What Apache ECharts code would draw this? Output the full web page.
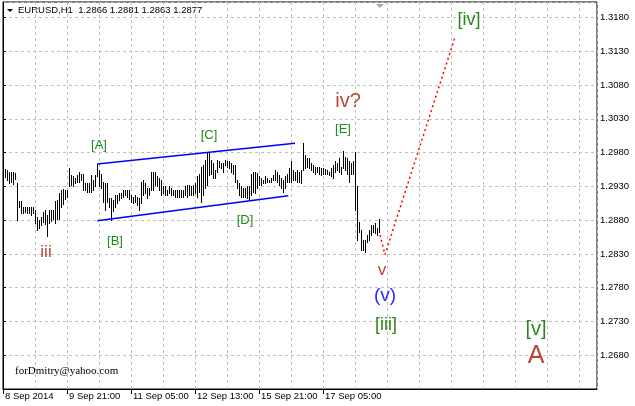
<!DOCTYPE html>
<html><head><meta charset="utf-8">
<script src="https://cdn.jsdelivr.net/npm/echarts@6/dist/echarts.min.js"></script>
<style>html,body{margin:0;padding:0;background:#fff}#c{width:635px;height:406px}</style>
</head><body><div id="c"></div>
<script>
// ---- data ----
const symbolTitle = 'EURUSD,H1  1.2866 1.2881 1.2863 1.2877';
const tickLabels = ['8 Sep 2014','9 Sep 21:00','11 Sep 05:00','12 Sep 13:00','15 Sep 21:00','17 Sep 05:00'];
const tickSlots = [0,32,64,96,128,160];
const highs = [
1.2955,1.2954,1.2951,1.2951,1.2951,1.2950,1.2935,1.2909,1.2909,1.2900,
1.2899,1.2899,1.2899,1.2899,1.2899,1.2895,1.2885,1.2880,1.2885,1.2892,
1.2895,1.2887,1.2895,1.2895,1.2895,1.2909,1.2910,1.2920,1.2924,1.2926,
1.2925,1.2925,1.2957,1.2947,1.2945,1.2942,1.2947,1.2952,1.2949,1.2949,
1.2935,1.2935,1.2935,1.2947,1.2940,1.2947,1.2963,1.2954,1.2949,1.2936,
1.2935,1.2935,1.2913,1.2913,1.2910,1.2917,1.2917,1.2920,1.2920,1.2925,
1.2925,1.2925,1.2925,1.2917,1.2915,1.2917,1.2915,1.2913,1.2937,1.2940,
1.2935,1.2927,1.2927,1.2952,1.2952,1.2952,1.2945,1.2942,1.2940,1.2930,
1.2930,1.2925,1.2930,1.2927,1.2925,1.2925,1.2925,1.2925,1.2925,1.2925,
1.2930,1.2932,1.2932,1.2930,1.2932,1.2935,1.2945,1.2949,1.2959,1.2962,
1.2969,1.2979,1.2979,1.2969,1.2964,1.2954,1.2969,1.2967,1.2964,1.2964,
1.2969,1.2967,1.2967,1.2964,1.2962,1.2962,1.2940,1.2935,1.2930,1.2927,
1.2927,1.2930,1.2930,1.2949,1.2952,1.2952,1.2950,1.2946,1.2942,1.2940,
1.2945,1.2942,1.2940,1.2942,1.2947,1.2954,1.2952,1.2947,1.2942,1.2940,
1.2945,1.2949,1.2957,1.2967,1.2954,1.2952,1.2954,1.2952,1.2954,1.2994,
1.2977,1.2972,1.2972,1.2964,1.2962,1.2959,1.2959,1.2959,1.2957,1.2957,
1.2955,1.2954,1.2952,1.2957,1.2962,1.2967,1.2964,1.2972,1.2959,1.2983,
1.2974,1.2972,1.2967,1.2964,1.2967,1.2981,1.2930,1.2878,1.2866,1.2851,
1.2851,1.2858,1.2866,1.2873,1.2873,1.2876,1.2868,1.2881];
const lows = [
1.2944,1.2939,1.2935,1.2937,1.2933,1.2941,1.2880,1.2899,1.2891,1.2891,
1.2892,1.2891,1.2890,1.2888,1.2890,1.2876,1.2866,1.2868,1.2873,1.2878,
1.2874,1.2857,1.2876,1.2879,1.2881,1.2876,1.2882,1.2881,1.2899,1.2904,
1.2912,1.2914,1.2930,1.2932,1.2930,1.2935,1.2937,1.2937,1.2940,1.2925,
1.2925,1.2922,1.2922,1.2922,1.2925,1.2930,1.2945,1.2930,1.2927,1.2907,
1.2895,1.2907,1.2900,1.2880,1.2893,1.2900,1.2905,1.2910,1.2913,1.2915,
1.2917,1.2915,1.2912,1.2907,1.2905,1.2907,1.2903,1.2895,1.2905,1.2917,
1.2920,1.2913,1.2917,1.2925,1.2925,1.2932,1.2930,1.2925,1.2917,1.2920,
1.2917,1.2917,1.2920,1.2917,1.2917,1.2915,1.2915,1.2915,1.2915,1.2915,
1.2917,1.2915,1.2917,1.2917,1.2917,1.2920,1.2915,1.2922,1.2907,1.2917,
1.2927,1.2932,1.2947,1.2949,1.2942,1.2942,1.2952,1.2959,1.2957,1.2952,
1.2962,1.2959,1.2957,1.2952,1.2949,1.2937,1.2927,1.2917,1.2915,1.2915,
1.2915,1.2913,1.2910,1.2917,1.2922,1.2920,1.2928,1.2932,1.2932,1.2935,
1.2935,1.2937,1.2937,1.2937,1.2940,1.2940,1.2937,1.2932,1.2927,1.2922,
1.2927,1.2937,1.2937,1.2937,1.2940,1.2940,1.2937,1.2937,1.2935,1.2954,
1.2957,1.2959,1.2957,1.2954,1.2952,1.2949,1.2952,1.2949,1.2947,1.2949,
1.2949,1.2948,1.2947,1.2945,1.2942,1.2952,1.2954,1.2952,1.2949,1.2957,
1.2954,1.2949,1.2937,1.2949,1.2949,1.2895,1.2851,1.2863,1.2836,1.2836,
1.2833,1.2848,1.2851,1.2858,1.2863,1.2861,1.2858,1.2863];
// trend lines (slot, price)
const upperX = [47.15, 146];   const upperY = [1.2963, 1.2994];
const lowerX = [47.15, 142.65]; const lowerY = [1.2879, 1.2916];
const projX = [188.5, 191, 226]; const projY = [1.2858, 1.2829, 1.3151];
// wave labels
const annotTexts  = ['[A]','[B]','[C]','[D]','[E]','iii','iv?','v','(v)','[iii]','[iv]','[v]','A'];
const annotSlots  = [48, 56, 103, 121, 170, 21.5, 172.5, 189.5, 191, 191.5, 233, 266.5, 266.5];
const annotPrices = [1.2991,1.2848,1.3005,1.2880,1.3015,1.2832,1.3055,1.2805,1.2768,1.2725,1.3176,1.2718,1.2678];

// ---- styles ----
const GREEN = '#1f8a1f', GREEN2 = '#2e8420', BROWN = '#b8473b', BLUE = '#2b2bff';
const annotStyle = {
  '[A]':[GREEN,13],'[B]':[GREEN,13],'[C]':[GREEN,13],'[D]':[GREEN,13],'[E]':[GREEN,13],
  'iii':[BROWN,17],'iv?':[BROWN,20],'v':[BROWN,17],'(v)':[BLUE,19],
  '[iii]':[GREEN2,18],'[iv]':[GREEN2,18],'[v]':[GREEN2,20],'A':[BROWN,25]
};
const FONT = '"Liberation Sans", Arial, sans-serif';

const barData = highs.map((h, i) => [i + 1, lows[i], h]);
const annotData = annotTexts.map((t, i) => [annotSlots[i], annotPrices[i], i]);

const chart = echarts.init(document.getElementById('c'));
chart.setOption({
  animation: false,
  backgroundColor: '#fff',
  grid: {left: 3, right: 38, top: 2, bottom: 17, show: true, borderColor: '#000', borderWidth: 1, backgroundColor: '#fff'},
  xAxis: [{
    type: 'value', min: 0, max: 297, interval: 16, position: 'bottom',
    axisLine: {show: true, lineStyle: {color: '#000'}},
    axisTick: {show: false}, axisLabel: {show: false},
    splitLine: {show: true, lineStyle: {color: '#c0c0c0', type: [3, 3], width: 1}}
  }, {
    type: 'value', min: 0, max: 297, position: 'bottom',
    axisLine: {show: false},
    axisTick: {show: true, customValues: tickSlots, length: 5, lineStyle: {color: '#000'}},
    axisLabel: {show: true, customValues: tickSlots, align: 'left', margin: 2, padding: [0, 0, 0, 2],
      color: '#000', fontSize: 9.5, fontFamily: FONT,
      formatter: v => { const k = tickSlots.indexOf(Math.round(v)); return k >= 0 ? tickLabels[k] : ''; }},
    splitLine: {show: false}
  }],
  yAxis: {
    type: 'value', position: 'right', min: 1.263, max: 1.3203, interval: 0.005,
    axisLine: {show: true, lineStyle: {color: '#000'}},
    axisTick: {show: true, length: 3, lineStyle: {color: '#000'}},
    axisLabel: {color: '#000', fontSize: 9.5, fontFamily: FONT, margin: 3,
      showMinLabel: false, showMaxLabel: false, formatter: v => v.toFixed(4)},
    splitLine: {show: true, lineStyle: {color: '#c0c0c0', type: [3, 3], width: 1}}
  },
  graphic: [
    {type: 'polygon', shape: {points: [[7, 9], [13, 9], [10, 12]]}, style: {fill: '#000'}, silent: true},
    {type: 'polygon', shape: {points: [[376, 4], [384, 4], [380, 8]]}, style: {fill: '#a8a8a8'}, silent: true},
    {type: 'text', left: 18, top: 5, style: {text: symbolTitle, fill: '#000', font: '9.5px ' + FONT}, silent: true},
    {type: 'text', left: 15, top: 366, style: {text: 'forDmitry@yahoo.com', fill: '#000', font: '11px "Liberation Serif", "Times New Roman", serif'}, silent: true}
  ],
  series: [{
    type: 'custom', xAxisIndex: 0, yAxisIndex: 0, silent: true,
    data: barData, encode: {x: 0, y: [1, 2]},
    renderItem: (params, api) => {
      const lo = api.coord([api.value(0), api.value(1)]);
      const hi = api.coord([api.value(0), api.value(2)]);
      const px = Math.round(lo[0]) + 0.5;
      return {type: 'line', shape: {x1: px, y1: Math.round(hi[1]), x2: px, y2: Math.round(lo[1]) + 1},
              style: {stroke: '#000', lineWidth: 1}};
    }
  }, {
    type: 'line', silent: true, symbol: 'none', data: upperX.map((x, i) => [x, upperY[i]]),
    lineStyle: {color: '#0000ff', width: 1.5}
  }, {
    type: 'line', silent: true, symbol: 'none', data: lowerX.map((x, i) => [x, lowerY[i]]),
    lineStyle: {color: '#0000ff', width: 1.5}
  }, {
    type: 'line', silent: true, symbol: 'none', data: projX.map((x, i) => [x, projY[i]]),
    lineStyle: {color: '#ff0000', width: 1.5, type: [2, 3]}
  }, {
    type: 'custom', silent: true, data: annotData, encode: {x: 0, y: 1},
    renderItem: (params, api) => {
      const p = api.coord([api.value(0), api.value(1)]);
      const t = annotTexts[api.value(2)];
      const s = annotStyle[t];
      return {type: 'text', x: p[0], y: p[1],
        style: {text: t, fill: s[0], font: s[1] + 'px ' + FONT, align: 'center', verticalAlign: 'middle'}};
    }
  }]
});
</script></body></html>
